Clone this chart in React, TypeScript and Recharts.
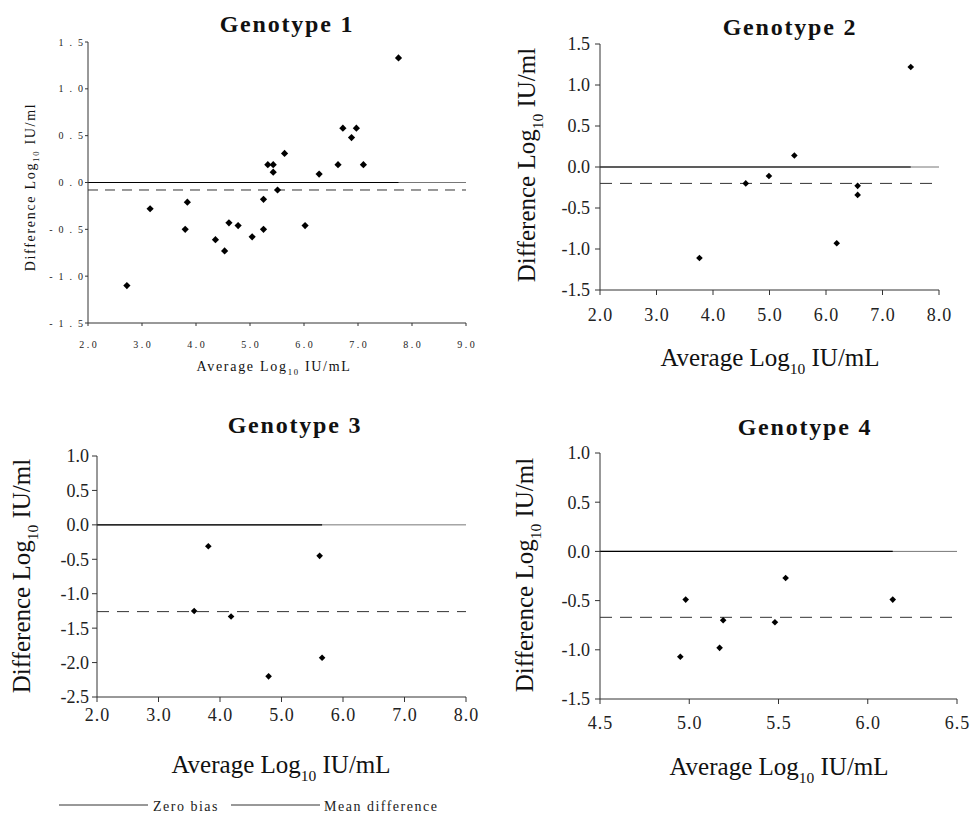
import { ScatterChart, Scatter, XAxis, YAxis, ReferenceLine } from 'recharts';

const FONT = '"Liberation Serif", "Times New Roman", serif';

// Genotype 1
const g1Avg = [2.72, 3.15, 3.8, 3.84, 4.36, 4.53, 4.61, 4.78, 5.04, 5.25, 5.25, 5.33, 5.43, 5.43, 5.51, 5.64, 6.02, 6.28, 6.63, 6.72, 6.88, 6.97, 7.1, 7.75];
const g1Diff = [-1.1, -0.28, -0.5, -0.21, -0.61, -0.73, -0.43, -0.46, -0.58, -0.5, -0.18, 0.19, 0.19, 0.11, -0.08, 0.31, -0.46, 0.09, 0.19, 0.58, 0.48, 0.58, 0.19, 1.33];
const g1Mean = -0.08;

// Genotype 2
const g2Avg = [3.76, 4.58, 4.99, 5.44, 6.19, 6.56, 6.56, 7.5];
const g2Diff = [-1.11, -0.2, -0.11, 0.14, -0.93, -0.23, -0.34, 1.22];
const g2Mean = -0.2;

// Genotype 3
const g3Avg = [3.58, 3.81, 4.18, 4.79, 5.62, 5.66];
const g3Diff = [-1.25, -0.31, -1.33, -2.2, -0.45, -1.93];
const g3Mean = -1.26;

// Genotype 4
const g4Avg = [4.95, 4.98, 5.17, 5.19, 5.48, 5.54, 6.14];
const g4Diff = [-1.07, -0.49, -0.98, -0.7, -0.72, -0.27, -0.49];
const g4Mean = -0.67;

const ticksA = [2, 3, 4, 5, 6, 7, 8];
const ticks1X = [2, 3, 4, 5, 6, 7, 8, 9];
const ticks4X = [4.5, 5, 5.5, 6, 6.5];
const ticksYA = [-1.5, -1, -0.5, 0, 0.5, 1, 1.5];
const ticks3Y = [-2.5, -2, -1.5, -1, -0.5, 0, 0.5, 1];
const ticks4Y = [-1.5, -1, -0.5, 0, 0.5, 1];

const Diamond = (props: any) => {
  const { cx, cy, r } = props;
  if (cx == null || cy == null) return null;
  return <path d={`M${cx},${cy - r}L${cx + r},${cy}L${cx},${cy + r}L${cx - r},${cy}Z`} fill="#000" />;
};

function LogText({ x, y, size, spacing, before, after, rotate }: any) {
  const sub = size * 0.62;
  const shift = size * 0.3;
  return (
    <text
      x={x}
      y={y}
      fontSize={size}
      fontFamily={FONT}
      fill="#111"
      textAnchor="middle"
      letterSpacing={spacing}
      transform={rotate ? `rotate(-90 ${x} ${y})` : undefined}
    >
      {before}
      <tspan fontSize={sub} dy={shift}>10</tspan>
      <tspan dy={-shift}>{after}</tspan>
    </text>
  );
}

// tick renderer so the serif font and spacing actually stick
const makeTick = (size: number, spacing: number, vertical: boolean) => (t: any) => (
  <text
    x={t.x + (vertical ? spacing : spacing / 2)}
    y={t.y}
    dy={vertical ? '0.36em' : '0.72em'}
    textAnchor={vertical ? 'end' : 'middle'}
    fontFamily={FONT}
    fontSize={size}
    letterSpacing={spacing}
    fill="#222"
  >
    {Number(t.payload.value).toFixed(1)}
  </text>
);

function Panel(p: any) {
  const data = p.avg.map((x: number, i: number) => ({ x, y: p.diff[i] }));
  const xMin = p.xTicks[0];
  const xMax = p.xTicks[p.xTicks.length - 1];
  const lastX = Math.max(...p.avg);
  return (
    <div style={{ position: 'absolute', left: p.left, top: p.top }}>
      <ScatterChart width={p.width} height={p.height} margin={p.margin}>
        <XAxis
          type="number"
          dataKey="x"
          domain={[xMin, xMax]}
          ticks={p.xTicks}
          interval={0}
          height={p.xAxisHeight}
          tick={makeTick(p.tickFont, p.xSpacing, false)}
          tickSize={p.tickLen}
          tickMargin={p.xMargin}
          stroke="#333"
          label={() => (
            <g>
              <text
                x={p.titlePos[0]}
                y={p.titlePos[1]}
                textAnchor="middle"
                fontFamily={FONT}
                fontWeight="bold"
                fontSize={24}
                letterSpacing={1.8}
                fill="#111"
              >
                {p.title}
              </text>
              <LogText
                x={p.xTitlePos[0]}
                y={p.xTitlePos[1]}
                size={p.axisTitleSize}
                spacing={p.axisTitleSpacing}
                before="Average Log"
                after=" IU/mL"
              />
            </g>
          )}
        />
        <YAxis
          type="number"
          dataKey="y"
          domain={[p.yTicks[0], p.yTicks[p.yTicks.length - 1]]}
          ticks={p.yTicks}
          interval={0}
          width={p.yAxisWidth}
          tick={makeTick(p.tickFont, p.ySpacing, true)}
          tickSize={p.tickLen}
          tickMargin={p.yMargin}
          stroke="#333"
          label={() => (
            <LogText
              x={p.yTitlePos[0]}
              y={p.yTitlePos[1]}
              size={p.axisTitleSize}
              spacing={p.axisTitleSpacing}
              before="Difference Log"
              after=" IU/ml"
              rotate
            />
          )}
        />
        <ReferenceLine y={0} stroke="#777" strokeWidth={1} />
        <ReferenceLine
          segment={[
            { x: xMin, y: 0 },
            { x: lastX, y: 0 },
          ]}
          stroke="#000"
          strokeWidth={1.2}
        />
        <ReferenceLine y={p.mean} stroke="#333" strokeWidth={1} strokeDasharray={p.dash} />
        <Scatter
          data={data}
          isAnimationActive={false}
          shape={(s: any) => <Diamond cx={s.cx} cy={s.cy} r={p.dot} />}
        />
      </ScatterChart>
    </div>
  );
}

export default function App() {
  return (
    <div style={{ position: 'absolute', left: 0, top: 0, width: 971, height: 814, background: '#fff' }}>
      <Panel
        left={0}
        top={0}
        width={480}
        height={390}
        margin={{ top: 42, right: 14, left: 0, bottom: 0 }}
        yAxisWidth={88}
        xAxisHeight={67}
        avg={g1Avg}
        diff={g1Diff}
        mean={g1Mean}
        xTicks={ticks1X}
        yTicks={ticksYA}
        title="Genotype 1"
        titlePos={[287, 32]}
        xTitlePos={[274, 371]}
        yTitlePos={[35, 187]}
        axisTitleSize={14}
        axisTitleSpacing={1.7}
        tickFont={10}
        xSpacing={2.5}
        ySpacing={6}
        tickLen={3}
        xMargin={15}
        yMargin={2}
        dot={3.6}
        dash="10 7"
      />
      <Panel
        left={480}
        top={0}
        width={491}
        height={390}
        margin={{ top: 44, right: 32, left: 0, bottom: 0 }}
        yAxisWidth={120}
        xAxisHeight={100}
        avg={g2Avg}
        diff={g2Diff}
        mean={g2Mean}
        xTicks={ticksA}
        yTicks={ticksYA}
        title="Genotype 2"
        titlePos={[310, 35]}
        xTitlePos={[290, 366]}
        yTitlePos={[55, 165]}
        axisTitleSize={25}
        axisTitleSpacing={0}
        tickFont={18}
        xSpacing={1}
        ySpacing={0}
        tickLen={5}
        xMargin={13}
        yMargin={5}
        dot={3.3}
        dash="12 8"
      />
      <Panel
        left={0}
        top={400}
        width={480}
        height={390}
        margin={{ top: 56, right: 14, left: 0, bottom: 0 }}
        yAxisWidth={97}
        xAxisHeight={93}
        avg={g3Avg}
        diff={g3Diff}
        mean={g3Mean}
        xTicks={ticksA}
        yTicks={ticks3Y}
        title="Genotype 3"
        titlePos={[295, 33]}
        xTitlePos={[281, 373]}
        yTitlePos={[30, 176]}
        axisTitleSize={25}
        axisTitleSpacing={0}
        tickFont={18}
        xSpacing={1}
        ySpacing={0}
        tickLen={5}
        xMargin={6}
        yMargin={3}
        dot={3.3}
        dash="12 8"
      />
      <Panel
        left={480}
        top={400}
        width={491}
        height={390}
        margin={{ top: 53, right: 14, left: 0, bottom: 0 }}
        yAxisWidth={120}
        xAxisHeight={91}
        avg={g4Avg}
        diff={g4Diff}
        mean={g4Mean}
        xTicks={ticks4X}
        yTicks={ticks4Y}
        title="Genotype 4"
        titlePos={[325, 35]}
        xTitlePos={[299, 375]}
        yTitlePos={[53, 175]}
        axisTitleSize={25}
        axisTitleSpacing={0}
        tickFont={18}
        xSpacing={1}
        ySpacing={0}
        tickLen={5}
        xMargin={12}
        yMargin={5}
        dot={3.3}
        dash="12 8"
      />
      <svg style={{ position: 'absolute', left: 0, top: 790 }} width={480} height={24}>
        <line x1={59} x2={148} y1={15} y2={15} stroke="#333" strokeWidth={1} />
        <text x={153} y={21} fontFamily={FONT} fontSize={14} letterSpacing={1.5} fill="#222">
          Zero bias
        </text>
        <line x1={231} x2={320} y1={15} y2={15} stroke="#333" strokeWidth={1} />
        <text x={324} y={21} fontFamily={FONT} fontSize={14} letterSpacing={1.5} fill="#222">
          Mean difference
        </text>
      </svg>
    </div>
  );
}
